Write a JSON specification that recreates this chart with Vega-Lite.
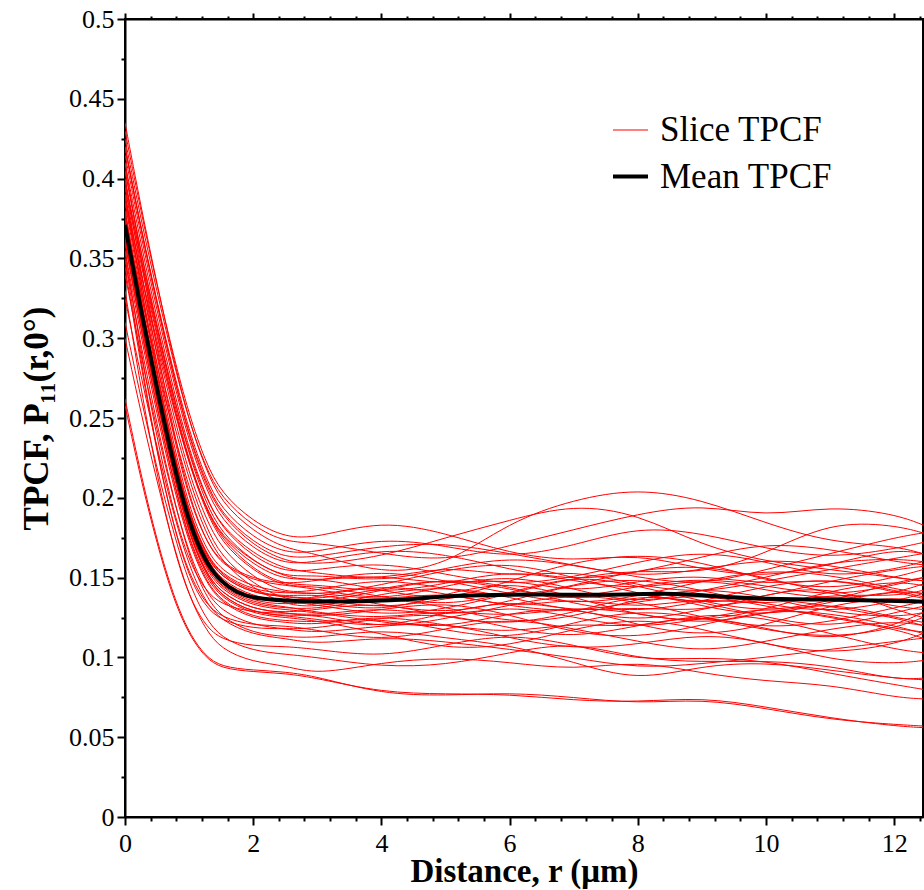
{
"$schema": "https://vega.github.io/schema/vega-lite/v6.json",
"width": 798, "height": 798,
"autosize": {"type": "none"},
"padding": {"left": 125, "top": 19, "right": 1, "bottom": 73},
"config": {"font": "Liberation Serif", "view": {"stroke": "#000", "strokeWidth": 2}, "axis": {"labelFont": "Liberation Serif", "titleFont": "Liberation Serif"}, "legend": {"labelFont": "Liberation Serif"}},
"datasets": {
"slices": [
{"c":1,"r":0,"v":0.262},{"c":1,"r":0.25,"v":0.214},{"c":1,"r":0.5,"v":0.173},{"c":1,"r":0.75,"v":0.139},{"c":1,"r":1,"v":0.115},{"c":1,"r":1.25,"v":0.101},{"c":1,"r":1.5,"v":0.094},{"c":1,"r":2,"v":0.092},{"c":1,"r":2.5,"v":0.091},{"c":1,"r":3,"v":0.088},{"c":1,"r":4,"v":0.077},{"c":1,"r":5,"v":0.076},{"c":1,"r":6,"v":0.078},{"c":1,"r":7,"v":0.075},{"c":1,"r":8,"v":0.071},{"c":1,"r":9,"v":0.074},{"c":1,"r":10,"v":0.068},{"c":1,"r":11,"v":0.061},{"c":1,"r":12,"v":0.058},{"c":1,"r":12.45,"v":0.057},
{"c":2,"r":0,"v":0.258},{"c":2,"r":0.25,"v":0.211},{"c":2,"r":0.5,"v":0.171},{"c":2,"r":0.75,"v":0.137},{"c":2,"r":1,"v":0.114},{"c":2,"r":1.25,"v":0.100},{"c":2,"r":1.5,"v":0.093},{"c":2,"r":2,"v":0.091},{"c":2,"r":2.5,"v":0.090},{"c":2,"r":3,"v":0.087},{"c":2,"r":4,"v":0.078},{"c":2,"r":5,"v":0.077},{"c":2,"r":6,"v":0.077},{"c":2,"r":7,"v":0.073},{"c":2,"r":8,"v":0.072},{"c":2,"r":9,"v":0.075},{"c":2,"r":10,"v":0.069},{"c":2,"r":11,"v":0.062},{"c":2,"r":12,"v":0.057},{"c":2,"r":12.45,"v":0.056},
{"c":3,"r":0,"v":0.300},{"c":3,"r":0.25,"v":0.253},{"c":3,"r":0.5,"v":0.210},{"c":3,"r":0.75,"v":0.171},{"c":3,"r":1,"v":0.138},{"c":3,"r":1.25,"v":0.118},{"c":3,"r":1.5,"v":0.105},{"c":3,"r":2,"v":0.097},{"c":3,"r":2.5,"v":0.095},{"c":3,"r":3,"v":0.089},{"c":3,"r":4,"v":0.097},{"c":3,"r":5,"v":0.100},{"c":3,"r":6,"v":0.097},{"c":3,"r":7,"v":0.092},{"c":3,"r":8,"v":0.098},{"c":3,"r":9,"v":0.090},{"c":3,"r":10,"v":0.085},{"c":3,"r":11,"v":0.083},{"c":3,"r":12,"v":0.075},{"c":3,"r":12.45,"v":0.074},
{"c":4,"r":0,"v":0.310},{"c":4,"r":0.25,"v":0.262},{"c":4,"r":0.5,"v":0.218},{"c":4,"r":0.75,"v":0.179},{"c":4,"r":1,"v":0.146},{"c":4,"r":1.25,"v":0.125},{"c":4,"r":1.5,"v":0.112},{"c":4,"r":2,"v":0.104},{"c":4,"r":2.5,"v":0.102},{"c":4,"r":3,"v":0.100},{"c":4,"r":4,"v":0.094},{"c":4,"r":5,"v":0.095},{"c":4,"r":6,"v":0.103},{"c":4,"r":7,"v":0.110},{"c":4,"r":8,"v":0.099},{"c":4,"r":9,"v":0.097},{"c":4,"r":10,"v":0.098},{"c":4,"r":11,"v":0.095},{"c":4,"r":12,"v":0.086},{"c":4,"r":12.45,"v":0.087},
{"c":5,"r":0,"v":0.325},{"c":5,"r":0.25,"v":0.276},{"c":5,"r":0.5,"v":0.231},{"c":5,"r":0.75,"v":0.191},{"c":5,"r":1,"v":0.157},{"c":5,"r":1.25,"v":0.135},{"c":5,"r":1.5,"v":0.123},{"c":5,"r":2,"v":0.114},{"c":5,"r":2.5,"v":0.112},{"c":5,"r":3,"v":0.108},{"c":5,"r":4,"v":0.113},{"c":5,"r":5,"v":0.110},{"c":5,"r":6,"v":0.105},{"c":5,"r":7,"v":0.100},{"c":5,"r":8,"v":0.093},{"c":5,"r":9,"v":0.096},{"c":5,"r":10,"v":0.100},{"c":5,"r":11,"v":0.105},{"c":5,"r":12,"v":0.110},{"c":5,"r":12.45,"v":0.112},
{"c":6,"r":0,"v":0.340},{"c":6,"r":0.25,"v":0.289},{"c":6,"r":0.5,"v":0.242},{"c":6,"r":0.75,"v":0.200},{"c":6,"r":1,"v":0.165},{"c":6,"r":1.25,"v":0.142},{"c":6,"r":1.5,"v":0.129},{"c":6,"r":2,"v":0.120},{"c":6,"r":2.5,"v":0.118},{"c":6,"r":3,"v":0.115},{"c":6,"r":4,"v":0.120},{"c":6,"r":5,"v":0.122},{"c":6,"r":6,"v":0.112},{"c":6,"r":7,"v":0.105},{"c":6,"r":8,"v":0.108},{"c":6,"r":9,"v":0.115},{"c":6,"r":10,"v":0.110},{"c":6,"r":11,"v":0.098},{"c":6,"r":12,"v":0.096},{"c":6,"r":12.45,"v":0.098},
{"c":7,"r":0,"v":0.345},{"c":7,"r":0.25,"v":0.282},{"c":7,"r":0.5,"v":0.228},{"c":7,"r":0.75,"v":0.183},{"c":7,"r":1,"v":0.152},{"c":7,"r":1.25,"v":0.134},{"c":7,"r":1.5,"v":0.125},{"c":7,"r":2,"v":0.120},{"c":7,"r":2.5,"v":0.120},{"c":7,"r":3,"v":0.117},{"c":7,"r":4,"v":0.110},{"c":7,"r":5,"v":0.118},{"c":7,"r":6,"v":0.125},{"c":7,"r":7,"v":0.118},{"c":7,"r":8,"v":0.110},{"c":7,"r":9,"v":0.103},{"c":7,"r":10,"v":0.110},{"c":7,"r":11,"v":0.118},{"c":7,"r":12,"v":0.123},{"c":7,"r":12.45,"v":0.120},
{"c":8,"r":0,"v":0.360},{"c":8,"r":0.25,"v":0.305},{"c":8,"r":0.5,"v":0.256},{"c":8,"r":0.75,"v":0.211},{"c":8,"r":1,"v":0.173},{"c":8,"r":1.25,"v":0.149},{"c":8,"r":1.5,"v":0.135},{"c":8,"r":2,"v":0.125},{"c":8,"r":2.5,"v":0.123},{"c":8,"r":3,"v":0.122},{"c":8,"r":4,"v":0.125},{"c":8,"r":5,"v":0.117},{"c":8,"r":6,"v":0.111},{"c":8,"r":7,"v":0.122},{"c":8,"r":8,"v":0.130},{"c":8,"r":9,"v":0.125},{"c":8,"r":10,"v":0.117},{"c":8,"r":11,"v":0.112},{"c":8,"r":12,"v":0.118},{"c":8,"r":12.45,"v":0.125},
{"c":9,"r":0,"v":0.365},{"c":9,"r":0.25,"v":0.310},{"c":9,"r":0.5,"v":0.261},{"c":9,"r":0.75,"v":0.216},{"c":9,"r":1,"v":0.178},{"c":9,"r":1.25,"v":0.154},{"c":9,"r":1.5,"v":0.140},{"c":9,"r":2,"v":0.130},{"c":9,"r":2.5,"v":0.128},{"c":9,"r":3,"v":0.125},{"c":9,"r":4,"v":0.130},{"c":9,"r":5,"v":0.135},{"c":9,"r":6,"v":0.127},{"c":9,"r":7,"v":0.115},{"c":9,"r":8,"v":0.112},{"c":9,"r":9,"v":0.120},{"c":9,"r":10,"v":0.130},{"c":9,"r":11,"v":0.128},{"c":9,"r":12,"v":0.120},{"c":9,"r":12.45,"v":0.115},
{"c":10,"r":0,"v":0.370},{"c":10,"r":0.25,"v":0.314},{"c":10,"r":0.5,"v":0.263},{"c":10,"r":0.75,"v":0.216},{"c":10,"r":1,"v":0.177},{"c":10,"r":1.25,"v":0.153},{"c":10,"r":1.5,"v":0.138},{"c":10,"r":2,"v":0.128},{"c":10,"r":2.5,"v":0.126},{"c":10,"r":3,"v":0.127},{"c":10,"r":4,"v":0.118},{"c":10,"r":5,"v":0.124},{"c":10,"r":6,"v":0.133},{"c":10,"r":7,"v":0.140},{"c":10,"r":8,"v":0.135},{"c":10,"r":9,"v":0.125},{"c":10,"r":10,"v":0.118},{"c":10,"r":11,"v":0.122},{"c":10,"r":12,"v":0.131},{"c":10,"r":12.45,"v":0.135},
{"c":11,"r":0,"v":0.375},{"c":11,"r":0.25,"v":0.319},{"c":11,"r":0.5,"v":0.268},{"c":11,"r":0.75,"v":0.221},{"c":11,"r":1,"v":0.182},{"c":11,"r":1.25,"v":0.158},{"c":11,"r":1.5,"v":0.143},{"c":11,"r":2,"v":0.133},{"c":11,"r":2.5,"v":0.131},{"c":11,"r":3,"v":0.130},{"c":11,"r":4,"v":0.138},{"c":11,"r":5,"v":0.132},{"c":11,"r":6,"v":0.121},{"c":11,"r":7,"v":0.125},{"c":11,"r":8,"v":0.137},{"c":11,"r":9,"v":0.144},{"c":11,"r":10,"v":0.138},{"c":11,"r":11,"v":0.128},{"c":11,"r":12,"v":0.125},{"c":11,"r":12.45,"v":0.128},
{"c":12,"r":0,"v":0.380},{"c":12,"r":0.25,"v":0.323},{"c":12,"r":0.5,"v":0.271},{"c":12,"r":0.75,"v":0.224},{"c":12,"r":1,"v":0.185},{"c":12,"r":1.25,"v":0.160},{"c":12,"r":1.5,"v":0.145},{"c":12,"r":2,"v":0.135},{"c":12,"r":2.5,"v":0.133},{"c":12,"r":3,"v":0.135},{"c":12,"r":4,"v":0.128},{"c":12,"r":5,"v":0.140},{"c":12,"r":6,"v":0.148},{"c":12,"r":7,"v":0.138},{"c":12,"r":8,"v":0.126},{"c":12,"r":9,"v":0.122},{"c":12,"r":10,"v":0.130},{"c":12,"r":11,"v":0.142},{"c":12,"r":12,"v":0.148},{"c":12,"r":12.45,"v":0.145},
{"c":13,"r":0,"v":0.385},{"c":13,"r":0.25,"v":0.335},{"c":13,"r":0.5,"v":0.290},{"c":13,"r":0.75,"v":0.248},{"c":13,"r":1,"v":0.211},{"c":13,"r":1.25,"v":0.183},{"c":13,"r":1.5,"v":0.163},{"c":13,"r":2,"v":0.146},{"c":13,"r":2.5,"v":0.136},{"c":13,"r":3,"v":0.134},{"c":13,"r":4,"v":0.142},{"c":13,"r":5,"v":0.150},{"c":13,"r":6,"v":0.145},{"c":13,"r":7,"v":0.133},{"c":13,"r":8,"v":0.128},{"c":13,"r":9,"v":0.135},{"c":13,"r":10,"v":0.145},{"c":13,"r":11,"v":0.150},{"c":13,"r":12,"v":0.141},{"c":13,"r":12.45,"v":0.137},
{"c":14,"r":0,"v":0.390},{"c":14,"r":0.25,"v":0.332},{"c":14,"r":0.5,"v":0.279},{"c":14,"r":0.75,"v":0.231},{"c":14,"r":1,"v":0.191},{"c":14,"r":1.25,"v":0.166},{"c":14,"r":1.5,"v":0.151},{"c":14,"r":2,"v":0.141},{"c":14,"r":2.5,"v":0.138},{"c":14,"r":3,"v":0.140},{"c":14,"r":4,"v":0.133},{"c":14,"r":5,"v":0.127},{"c":14,"r":6,"v":0.135},{"c":14,"r":7,"v":0.146},{"c":14,"r":8,"v":0.150},{"c":14,"r":9,"v":0.142},{"c":14,"r":10,"v":0.133},{"c":14,"r":11,"v":0.128},{"c":14,"r":12,"v":0.135},{"c":14,"r":12.45,"v":0.140},
{"c":15,"r":0,"v":0.390},{"c":15,"r":0.25,"v":0.340},{"c":15,"r":0.5,"v":0.295},{"c":15,"r":0.75,"v":0.253},{"c":15,"r":1,"v":0.215},{"c":15,"r":1.25,"v":0.188},{"c":15,"r":1.5,"v":0.168},{"c":15,"r":2,"v":0.150},{"c":15,"r":2.5,"v":0.140},{"c":15,"r":3,"v":0.142},{"c":15,"r":4,"v":0.150},{"c":15,"r":5,"v":0.143},{"c":15,"r":6,"v":0.137},{"c":15,"r":7,"v":0.145},{"c":15,"r":8,"v":0.155},{"c":15,"r":9,"v":0.158},{"c":15,"r":10,"v":0.150},{"c":15,"r":11,"v":0.140},{"c":15,"r":12,"v":0.132},{"c":15,"r":12.45,"v":0.130},
{"c":16,"r":0,"v":0.395},{"c":16,"r":0.25,"v":0.337},{"c":16,"r":0.5,"v":0.283},{"c":16,"r":0.75,"v":0.235},{"c":16,"r":1,"v":0.194},{"c":16,"r":1.25,"v":0.169},{"c":16,"r":1.5,"v":0.154},{"c":16,"r":2,"v":0.144},{"c":16,"r":2.5,"v":0.141},{"c":16,"r":3,"v":0.139},{"c":16,"r":4,"v":0.145},{"c":16,"r":5,"v":0.155},{"c":16,"r":6,"v":0.160},{"c":16,"r":7,"v":0.150},{"c":16,"r":8,"v":0.140},{"c":16,"r":9,"v":0.133},{"c":16,"r":10,"v":0.138},{"c":16,"r":11,"v":0.148},{"c":16,"r":12,"v":0.155},{"c":16,"r":12.45,"v":0.157},
{"c":17,"r":0,"v":0.400},{"c":17,"r":0.25,"v":0.349},{"c":17,"r":0.5,"v":0.303},{"c":17,"r":0.75,"v":0.259},{"c":17,"r":1,"v":0.221},{"c":17,"r":1.25,"v":0.193},{"c":17,"r":1.5,"v":0.172},{"c":17,"r":2,"v":0.154},{"c":17,"r":2.5,"v":0.144},{"c":17,"r":3,"v":0.145},{"c":17,"r":4,"v":0.138},{"c":17,"r":5,"v":0.132},{"c":17,"r":6,"v":0.140},{"c":17,"r":7,"v":0.152},{"c":17,"r":8,"v":0.145},{"c":17,"r":9,"v":0.135},{"c":17,"r":10,"v":0.128},{"c":17,"r":11,"v":0.135},{"c":17,"r":12,"v":0.147},{"c":17,"r":12.45,"v":0.150},
{"c":18,"r":0,"v":0.400},{"c":18,"r":0.25,"v":0.342},{"c":18,"r":0.5,"v":0.288},{"c":18,"r":0.75,"v":0.240},{"c":18,"r":1,"v":0.199},{"c":18,"r":1.25,"v":0.174},{"c":18,"r":1.5,"v":0.159},{"c":18,"r":2,"v":0.149},{"c":18,"r":2.5,"v":0.146},{"c":18,"r":3,"v":0.148},{"c":18,"r":4,"v":0.155},{"c":18,"r":5,"v":0.148},{"c":18,"r":6,"v":0.140},{"c":18,"r":7,"v":0.133},{"c":18,"r":8,"v":0.138},{"c":18,"r":9,"v":0.148},{"c":18,"r":10,"v":0.155},{"c":18,"r":11,"v":0.152},{"c":18,"r":12,"v":0.143},{"c":18,"r":12.45,"v":0.140},
{"c":19,"r":0,"v":0.405},{"c":19,"r":0.25,"v":0.354},{"c":19,"r":0.5,"v":0.308},{"c":19,"r":0.75,"v":0.265},{"c":19,"r":1,"v":0.227},{"c":19,"r":1.25,"v":0.198},{"c":19,"r":1.5,"v":0.178},{"c":19,"r":2,"v":0.160},{"c":19,"r":2.5,"v":0.150},{"c":19,"r":3,"v":0.152},{"c":19,"r":4,"v":0.147},{"c":19,"r":5,"v":0.156},{"c":19,"r":6,"v":0.163},{"c":19,"r":7,"v":0.158},{"c":19,"r":8,"v":0.150},{"c":19,"r":9,"v":0.155},{"c":19,"r":10,"v":0.162},{"c":19,"r":11,"v":0.158},{"c":19,"r":12,"v":0.150},{"c":19,"r":12.45,"v":0.148},
{"c":20,"r":0,"v":0.410},{"c":20,"r":0.25,"v":0.359},{"c":20,"r":0.5,"v":0.312},{"c":20,"r":0.75,"v":0.269},{"c":20,"r":1,"v":0.230},{"c":20,"r":1.25,"v":0.202},{"c":20,"r":1.5,"v":0.181},{"c":20,"r":2,"v":0.163},{"c":20,"r":2.5,"v":0.153},{"c":20,"r":3,"v":0.155},{"c":20,"r":4,"v":0.160},{"c":20,"r":5,"v":0.152},{"c":20,"r":6,"v":0.145},{"c":20,"r":7,"v":0.150},{"c":20,"r":8,"v":0.160},{"c":20,"r":9,"v":0.167},{"c":20,"r":10,"v":0.160},{"c":20,"r":11,"v":0.150},{"c":20,"r":12,"v":0.155},{"c":20,"r":12.45,"v":0.160},
{"c":21,"r":0,"v":0.415},{"c":21,"r":0.25,"v":0.364},{"c":21,"r":0.5,"v":0.317},{"c":21,"r":0.75,"v":0.274},{"c":21,"r":1,"v":0.235},{"c":21,"r":1.25,"v":0.207},{"c":21,"r":1.5,"v":0.186},{"c":21,"r":2,"v":0.168},{"c":21,"r":2.5,"v":0.158},{"c":21,"r":3,"v":0.160},{"c":21,"r":4,"v":0.168},{"c":21,"r":5,"v":0.165},{"c":21,"r":6,"v":0.155},{"c":21,"r":7,"v":0.148},{"c":21,"r":8,"v":0.153},{"c":21,"r":9,"v":0.163},{"c":21,"r":10,"v":0.172},{"c":21,"r":11,"v":0.168},{"c":21,"r":12,"v":0.160},{"c":21,"r":12.45,"v":0.158},
{"c":22,"r":0,"v":0.420},{"c":22,"r":0.25,"v":0.369},{"c":22,"r":0.5,"v":0.323},{"c":22,"r":0.75,"v":0.280},{"c":22,"r":1,"v":0.242},{"c":22,"r":1.25,"v":0.213},{"c":22,"r":1.5,"v":0.193},{"c":22,"r":2,"v":0.175},{"c":22,"r":2.5,"v":0.165},{"c":22,"r":3,"v":0.166},{"c":22,"r":4,"v":0.175},{"c":22,"r":5,"v":0.170},{"c":22,"r":6,"v":0.162},{"c":22,"r":7,"v":0.170},{"c":22,"r":8,"v":0.182},{"c":22,"r":9,"v":0.178},{"c":22,"r":10,"v":0.168},{"c":22,"r":11,"v":0.162},{"c":22,"r":12,"v":0.168},{"c":22,"r":12.45,"v":0.172},
{"c":23,"r":0,"v":0.425},{"c":23,"r":0.25,"v":0.374},{"c":23,"r":0.5,"v":0.329},{"c":23,"r":0.75,"v":0.286},{"c":23,"r":1,"v":0.248},{"c":23,"r":1.25,"v":0.220},{"c":23,"r":1.5,"v":0.200},{"c":23,"r":2,"v":0.182},{"c":23,"r":2.5,"v":0.172},{"c":23,"r":3,"v":0.172},{"c":23,"r":4,"v":0.165},{"c":23,"r":5,"v":0.160},{"c":23,"r":6,"v":0.170},{"c":23,"r":7,"v":0.180},{"c":23,"r":8,"v":0.190},{"c":23,"r":9,"v":0.196},{"c":23,"r":10,"v":0.188},{"c":23,"r":11,"v":0.195},{"c":23,"r":12,"v":0.190},{"c":23,"r":12.45,"v":0.183},
{"c":24,"r":0,"v":0.430},{"c":24,"r":0.25,"v":0.379},{"c":24,"r":0.5,"v":0.333},{"c":24,"r":0.75,"v":0.290},{"c":24,"r":1,"v":0.252},{"c":24,"r":1.25,"v":0.223},{"c":24,"r":1.5,"v":0.203},{"c":24,"r":2,"v":0.185},{"c":24,"r":2.5,"v":0.175},{"c":24,"r":3,"v":0.175},{"c":24,"r":4,"v":0.186},{"c":24,"r":5,"v":0.178},{"c":24,"r":6,"v":0.165},{"c":24,"r":7,"v":0.160},{"c":24,"r":8,"v":0.165},{"c":24,"r":9,"v":0.155},{"c":24,"r":10,"v":0.150},{"c":24,"r":11,"v":0.158},{"c":24,"r":12,"v":0.168},{"c":24,"r":12.45,"v":0.165},
{"c":25,"r":0,"v":0.435},{"c":25,"r":0.25,"v":0.382},{"c":25,"r":0.5,"v":0.334},{"c":25,"r":0.75,"v":0.288},{"c":25,"r":1,"v":0.248},{"c":25,"r":1.25,"v":0.219},{"c":25,"r":1.5,"v":0.197},{"c":25,"r":2,"v":0.179},{"c":25,"r":2.5,"v":0.168},{"c":25,"r":3,"v":0.165},{"c":25,"r":4,"v":0.152},{"c":25,"r":5,"v":0.157},{"c":25,"r":6,"v":0.185},{"c":25,"r":7,"v":0.199},{"c":25,"r":8,"v":0.206},{"c":25,"r":9,"v":0.199},{"c":25,"r":10,"v":0.184},{"c":25,"r":11,"v":0.172},{"c":25,"r":12,"v":0.170},{"c":25,"r":12.45,"v":0.165},
{"c":26,"r":0,"v":0.420},{"c":26,"r":0.25,"v":0.368},{"c":26,"r":0.5,"v":0.321},{"c":26,"r":0.75,"v":0.277},{"c":26,"r":1,"v":0.238},{"c":26,"r":1.25,"v":0.209},{"c":26,"r":1.5,"v":0.189},{"c":26,"r":2,"v":0.170},{"c":26,"r":2.5,"v":0.160},{"c":26,"r":3,"v":0.158},{"c":26,"r":4,"v":0.163},{"c":26,"r":5,"v":0.175},{"c":26,"r":6,"v":0.186},{"c":26,"r":7,"v":0.196},{"c":26,"r":8,"v":0.190},{"c":26,"r":9,"v":0.170},{"c":26,"r":10,"v":0.160},{"c":26,"r":11,"v":0.155},{"c":26,"r":12,"v":0.150},{"c":26,"r":12.45,"v":0.148},
{"c":27,"r":0,"v":0.390},{"c":27,"r":0.25,"v":0.331},{"c":27,"r":0.5,"v":0.278},{"c":27,"r":0.75,"v":0.229},{"c":27,"r":1,"v":0.189},{"c":27,"r":1.25,"v":0.163},{"c":27,"r":1.5,"v":0.148},{"c":27,"r":2,"v":0.138},{"c":27,"r":2.5,"v":0.135},{"c":27,"r":3,"v":0.133},{"c":27,"r":4,"v":0.126},{"c":27,"r":5,"v":0.130},{"c":27,"r":6,"v":0.140},{"c":27,"r":7,"v":0.150},{"c":27,"r":8,"v":0.155},{"c":27,"r":9,"v":0.152},{"c":27,"r":10,"v":0.165},{"c":27,"r":11,"v":0.185},{"c":27,"r":12,"v":0.183},{"c":27,"r":12.45,"v":0.178},
{"c":28,"r":0,"v":0.360},{"c":28,"r":0.25,"v":0.306},{"c":28,"r":0.5,"v":0.257},{"c":28,"r":0.75,"v":0.212},{"c":28,"r":1,"v":0.174},{"c":28,"r":1.25,"v":0.151},{"c":28,"r":1.5,"v":0.137},{"c":28,"r":2,"v":0.127},{"c":28,"r":2.5,"v":0.125},{"c":28,"r":3,"v":0.123},{"c":28,"r":4,"v":0.115},{"c":28,"r":5,"v":0.105},{"c":28,"r":6,"v":0.107},{"c":28,"r":7,"v":0.118},{"c":28,"r":8,"v":0.125},{"c":28,"r":9,"v":0.118},{"c":28,"r":10,"v":0.108},{"c":28,"r":11,"v":0.102},{"c":28,"r":12,"v":0.108},{"c":28,"r":12.45,"v":0.115},
{"c":29,"r":0,"v":0.330},{"c":29,"r":0.25,"v":0.268},{"c":29,"r":0.5,"v":0.214},{"c":29,"r":0.75,"v":0.169},{"c":29,"r":1,"v":0.138},{"c":29,"r":1.25,"v":0.120},{"c":29,"r":1.5,"v":0.111},{"c":29,"r":2,"v":0.107},{"c":29,"r":2.5,"v":0.107},{"c":29,"r":3,"v":0.105},{"c":29,"r":4,"v":0.100},{"c":29,"r":5,"v":0.108},{"c":29,"r":6,"v":0.115},{"c":29,"r":7,"v":0.108},{"c":29,"r":8,"v":0.098},{"c":29,"r":9,"v":0.100},{"c":29,"r":10,"v":0.098},{"c":29,"r":11,"v":0.090},{"c":29,"r":12,"v":0.083},{"c":29,"r":12.45,"v":0.080},
{"c":30,"r":0,"v":0.350},{"c":30,"r":0.25,"v":0.295},{"c":30,"r":0.5,"v":0.246},{"c":30,"r":0.75,"v":0.201},{"c":30,"r":1,"v":0.163},{"c":30,"r":1.25,"v":0.139},{"c":30,"r":1.5,"v":0.125},{"c":30,"r":2,"v":0.115},{"c":30,"r":2.5,"v":0.113},{"c":30,"r":3,"v":0.112},{"c":30,"r":4,"v":0.118},{"c":30,"r":5,"v":0.112},{"c":30,"r":6,"v":0.108},{"c":30,"r":7,"v":0.097},{"c":30,"r":8,"v":0.085},{"c":30,"r":9,"v":0.095},{"c":30,"r":10,"v":0.097},{"c":30,"r":11,"v":0.092},{"c":30,"r":12,"v":0.087},{"c":30,"r":12.45,"v":0.086},
{"c":31,"r":0,"v":0.370},{"c":31,"r":0.25,"v":0.315},{"c":31,"r":0.5,"v":0.264},{"c":31,"r":0.75,"v":0.219},{"c":31,"r":1,"v":0.180},{"c":31,"r":1.25,"v":0.156},{"c":31,"r":1.5,"v":0.142},{"c":31,"r":2,"v":0.132},{"c":31,"r":2.5,"v":0.130},{"c":31,"r":3,"v":0.128},{"c":31,"r":4,"v":0.122},{"c":31,"r":5,"v":0.118},{"c":31,"r":6,"v":0.128},{"c":31,"r":7,"v":0.132},{"c":31,"r":8,"v":0.120},{"c":31,"r":9,"v":0.113},{"c":31,"r":10,"v":0.120},{"c":31,"r":11,"v":0.133},{"c":31,"r":12,"v":0.138},{"c":31,"r":12.45,"v":0.135},
{"c":32,"r":0,"v":0.380},{"c":32,"r":0.25,"v":0.324},{"c":32,"r":0.5,"v":0.272},{"c":32,"r":0.75,"v":0.226},{"c":32,"r":1,"v":0.186},{"c":32,"r":1.25,"v":0.162},{"c":32,"r":1.5,"v":0.147},{"c":32,"r":2,"v":0.137},{"c":32,"r":2.5,"v":0.135},{"c":32,"r":3,"v":0.138},{"c":32,"r":4,"v":0.146},{"c":32,"r":5,"v":0.140},{"c":32,"r":6,"v":0.132},{"c":32,"r":7,"v":0.128},{"c":32,"r":8,"v":0.135},{"c":32,"r":9,"v":0.140},{"c":32,"r":10,"v":0.132},{"c":32,"r":11,"v":0.125},{"c":32,"r":12,"v":0.118},{"c":32,"r":12.45,"v":0.112},
{"c":33,"r":0,"v":0.385},{"c":33,"r":0.25,"v":0.328},{"c":33,"r":0.5,"v":0.276},{"c":33,"r":0.75,"v":0.229},{"c":33,"r":1,"v":0.190},{"c":33,"r":1.25,"v":0.165},{"c":33,"r":1.5,"v":0.150},{"c":33,"r":2,"v":0.140},{"c":33,"r":2.5,"v":0.138},{"c":33,"r":3,"v":0.137},{"c":33,"r":4,"v":0.130},{"c":33,"r":5,"v":0.137},{"c":33,"r":6,"v":0.142},{"c":33,"r":7,"v":0.136},{"c":33,"r":8,"v":0.145},{"c":33,"r":9,"v":0.150},{"c":33,"r":10,"v":0.145},{"c":33,"r":11,"v":0.138},{"c":33,"r":12,"v":0.145},{"c":33,"r":12.45,"v":0.150},
{"c":34,"r":0,"v":0.355},{"c":34,"r":0.25,"v":0.301},{"c":34,"r":0.5,"v":0.252},{"c":34,"r":0.75,"v":0.208},{"c":34,"r":1,"v":0.171},{"c":34,"r":1.25,"v":0.148},{"c":34,"r":1.5,"v":0.134},{"c":34,"r":2,"v":0.124},{"c":34,"r":2.5,"v":0.122},{"c":34,"r":3,"v":0.120},{"c":34,"r":4,"v":0.127},{"c":34,"r":5,"v":0.120},{"c":34,"r":6,"v":0.115},{"c":34,"r":7,"v":0.122},{"c":34,"r":8,"v":0.118},{"c":34,"r":9,"v":0.128},{"c":34,"r":10,"v":0.125},{"c":34,"r":11,"v":0.115},{"c":34,"r":12,"v":0.105},{"c":34,"r":12.45,"v":0.103},
{"c":35,"r":0,"v":0.395},{"c":35,"r":0.25,"v":0.346},{"c":35,"r":0.5,"v":0.301},{"c":35,"r":0.75,"v":0.259},{"c":35,"r":1,"v":0.222},{"c":35,"r":1.25,"v":0.195},{"c":35,"r":1.5,"v":0.175},{"c":35,"r":2,"v":0.158},{"c":35,"r":2.5,"v":0.148},{"c":35,"r":3,"v":0.150},{"c":35,"r":4,"v":0.142},{"c":35,"r":5,"v":0.135},{"c":35,"r":6,"v":0.148},{"c":35,"r":7,"v":0.160},{"c":35,"r":8,"v":0.165},{"c":35,"r":9,"v":0.160},{"c":35,"r":10,"v":0.148},{"c":35,"r":11,"v":0.142},{"c":35,"r":12,"v":0.150},{"c":35,"r":12.45,"v":0.155},
{"c":36,"r":0,"v":0.375},{"c":36,"r":0.25,"v":0.327},{"c":36,"r":0.5,"v":0.283},{"c":36,"r":0.75,"v":0.242},{"c":36,"r":1,"v":0.206},{"c":36,"r":1.25,"v":0.179},{"c":36,"r":1.5,"v":0.160},{"c":36,"r":2,"v":0.143},{"c":36,"r":2.5,"v":0.133},{"c":36,"r":3,"v":0.131},{"c":36,"r":4,"v":0.140},{"c":36,"r":5,"v":0.145},{"c":36,"r":6,"v":0.138},{"c":36,"r":7,"v":0.128},{"c":36,"r":8,"v":0.132},{"c":36,"r":9,"v":0.128},{"c":36,"r":10,"v":0.140},{"c":36,"r":11,"v":0.145},{"c":36,"r":12,"v":0.130},{"c":36,"r":12.45,"v":0.125},
{"c":37,"r":0,"v":0.410},{"c":37,"r":0.25,"v":0.349},{"c":37,"r":0.5,"v":0.293},{"c":37,"r":0.75,"v":0.243},{"c":37,"r":1,"v":0.201},{"c":37,"r":1.25,"v":0.174},{"c":37,"r":1.5,"v":0.158},{"c":37,"r":2,"v":0.148},{"c":37,"r":2.5,"v":0.145},{"c":37,"r":3,"v":0.143},{"c":37,"r":4,"v":0.135},{"c":37,"r":5,"v":0.145},{"c":37,"r":6,"v":0.152},{"c":37,"r":7,"v":0.143},{"c":37,"r":8,"v":0.133},{"c":37,"r":9,"v":0.142},{"c":37,"r":10,"v":0.150},{"c":37,"r":11,"v":0.160},{"c":37,"r":12,"v":0.162},{"c":37,"r":12.45,"v":0.160},
{"c":38,"r":0,"v":0.350},{"c":38,"r":0.25,"v":0.285},{"c":38,"r":0.5,"v":0.229},{"c":38,"r":0.75,"v":0.183},{"c":38,"r":1,"v":0.150},{"c":38,"r":1.25,"v":0.132},{"c":38,"r":1.5,"v":0.123},{"c":38,"r":2,"v":0.118},{"c":38,"r":2.5,"v":0.118},{"c":38,"r":3,"v":0.118},{"c":38,"r":4,"v":0.125},{"c":38,"r":5,"v":0.128},{"c":38,"r":6,"v":0.118},{"c":38,"r":7,"v":0.112},{"c":38,"r":8,"v":0.120},{"c":38,"r":9,"v":0.127},{"c":38,"r":10,"v":0.118},{"c":38,"r":11,"v":0.110},{"c":38,"r":12,"v":0.120},{"c":38,"r":12.45,"v":0.128},
{"c":39,"r":0,"v":0.420},{"c":39,"r":0.25,"v":0.368},{"c":39,"r":0.5,"v":0.322},{"c":39,"r":0.75,"v":0.278},{"c":39,"r":1,"v":0.239},{"c":39,"r":1.25,"v":0.211},{"c":39,"r":1.5,"v":0.190},{"c":39,"r":2,"v":0.172},{"c":39,"r":2.5,"v":0.162},{"c":39,"r":3,"v":0.163},{"c":39,"r":4,"v":0.170},{"c":39,"r":5,"v":0.172},{"c":39,"r":6,"v":0.165},{"c":39,"r":7,"v":0.158},{"c":39,"r":8,"v":0.150},{"c":39,"r":9,"v":0.145},{"c":39,"r":10,"v":0.155},{"c":39,"r":11,"v":0.165},{"c":39,"r":12,"v":0.175},{"c":39,"r":12.45,"v":0.178},
{"c":40,"r":0,"v":0.365},{"c":40,"r":0.25,"v":0.310},{"c":40,"r":0.5,"v":0.261},{"c":40,"r":0.75,"v":0.216},{"c":40,"r":1,"v":0.178},{"c":40,"r":1.25,"v":0.154},{"c":40,"r":1.5,"v":0.140},{"c":40,"r":2,"v":0.130},{"c":40,"r":2.5,"v":0.128},{"c":40,"r":3,"v":0.130},{"c":40,"r":4,"v":0.135},{"c":40,"r":5,"v":0.125},{"c":40,"r":6,"v":0.120},{"c":40,"r":7,"v":0.128},{"c":40,"r":8,"v":0.140},{"c":40,"r":9,"v":0.135},{"c":40,"r":10,"v":0.125},{"c":40,"r":11,"v":0.118},{"c":40,"r":12,"v":0.128},{"c":40,"r":12.45,"v":0.132},
{"c":41,"r":0,"v":0.372},{"c":41,"r":0.25,"v":0.318},{"c":41,"r":0.5,"v":0.269},{"c":41,"r":0.75,"v":0.225},{"c":41,"r":1,"v":0.187},{"c":41,"r":1.25,"v":0.164},{"c":41,"r":1.5,"v":0.150},{"c":41,"r":2,"v":0.140},{"c":41,"r":2.5,"v":0.138},{"c":41,"r":3,"v":0.136},{"c":41,"r":4,"v":0.143},{"c":41,"r":5,"v":0.150},{"c":41,"r":6,"v":0.143},{"c":41,"r":7,"v":0.135},{"c":41,"r":8,"v":0.142},{"c":41,"r":9,"v":0.132},{"c":41,"r":10,"v":0.125},{"c":41,"r":11,"v":0.135},{"c":41,"r":12,"v":0.142},{"c":41,"r":12.45,"v":0.140},
{"c":42,"r":0,"v":0.368},{"c":42,"r":0.25,"v":0.312},{"c":42,"r":0.5,"v":0.262},{"c":42,"r":0.75,"v":0.216},{"c":42,"r":1,"v":0.177},{"c":42,"r":1.25,"v":0.153},{"c":42,"r":1.5,"v":0.138},{"c":42,"r":2,"v":0.128},{"c":42,"r":2.5,"v":0.126},{"c":42,"r":3,"v":0.124},{"c":42,"r":4,"v":0.118},{"c":42,"r":5,"v":0.128},{"c":42,"r":6,"v":0.136},{"c":42,"r":7,"v":0.130},{"c":42,"r":8,"v":0.122},{"c":42,"r":9,"v":0.130},{"c":42,"r":10,"v":0.138},{"c":42,"r":11,"v":0.132},{"c":42,"r":12,"v":0.125},{"c":42,"r":12.45,"v":0.120},
{"c":43,"r":0,"v":0.388},{"c":43,"r":0.25,"v":0.340},{"c":43,"r":0.5,"v":0.298},{"c":43,"r":0.75,"v":0.257},{"c":43,"r":1,"v":0.221},{"c":43,"r":1.25,"v":0.195},{"c":43,"r":1.5,"v":0.176},{"c":43,"r":2,"v":0.160},{"c":43,"r":2.5,"v":0.150},{"c":43,"r":3,"v":0.148},{"c":43,"r":4,"v":0.152},{"c":43,"r":5,"v":0.145},{"c":43,"r":6,"v":0.150},{"c":43,"r":7,"v":0.140},{"c":43,"r":8,"v":0.148},{"c":43,"r":9,"v":0.152},{"c":43,"r":10,"v":0.145},{"c":43,"r":11,"v":0.150},{"c":43,"r":12,"v":0.142},{"c":43,"r":12.45,"v":0.138},
{"c":44,"r":0,"v":0.378},{"c":44,"r":0.25,"v":0.323},{"c":44,"r":0.5,"v":0.273},{"c":44,"r":0.75,"v":0.228},{"c":44,"r":1,"v":0.190},{"c":44,"r":1.25,"v":0.166},{"c":44,"r":1.5,"v":0.152},{"c":44,"r":2,"v":0.142},{"c":44,"r":2.5,"v":0.140},{"c":44,"r":3,"v":0.141},{"c":44,"r":4,"v":0.135},{"c":44,"r":5,"v":0.142},{"c":44,"r":6,"v":0.130},{"c":44,"r":7,"v":0.138},{"c":44,"r":8,"v":0.130},{"c":44,"r":9,"v":0.138},{"c":44,"r":10,"v":0.132},{"c":44,"r":11,"v":0.140},{"c":44,"r":12,"v":0.138},{"c":44,"r":12.45,"v":0.142},
{"c":45,"r":0,"v":0.362},{"c":45,"r":0.25,"v":0.309},{"c":45,"r":0.5,"v":0.261},{"c":45,"r":0.75,"v":0.217},{"c":45,"r":1,"v":0.180},{"c":45,"r":1.25,"v":0.157},{"c":45,"r":1.5,"v":0.144},{"c":45,"r":2,"v":0.134},{"c":45,"r":2.5,"v":0.132},{"c":45,"r":3,"v":0.128},{"c":45,"r":4,"v":0.124},{"c":45,"r":5,"v":0.130},{"c":45,"r":6,"v":0.125},{"c":45,"r":7,"v":0.132},{"c":45,"r":8,"v":0.128},{"c":45,"r":9,"v":0.120},{"c":45,"r":10,"v":0.128},{"c":45,"r":11,"v":0.135},{"c":45,"r":12,"v":0.125},{"c":45,"r":12.45,"v":0.122},
{"c":46,"r":0,"v":0.398},{"c":46,"r":0.25,"v":0.349},{"c":46,"r":0.5,"v":0.306},{"c":46,"r":0.75,"v":0.264},{"c":46,"r":1,"v":0.228},{"c":46,"r":1.25,"v":0.201},{"c":46,"r":1.5,"v":0.182},{"c":46,"r":2,"v":0.165},{"c":46,"r":2.5,"v":0.155},{"c":46,"r":3,"v":0.153},{"c":46,"r":4,"v":0.148},{"c":46,"r":5,"v":0.158},{"c":46,"r":6,"v":0.150},{"c":46,"r":7,"v":0.155},{"c":46,"r":8,"v":0.145},{"c":46,"r":9,"v":0.140},{"c":46,"r":10,"v":0.148},{"c":46,"r":11,"v":0.155},{"c":46,"r":12,"v":0.162},{"c":46,"r":12.45,"v":0.165},
{"c":47,"r":0,"v":0.355},{"c":47,"r":0.25,"v":0.291},{"c":47,"r":0.5,"v":0.237},{"c":47,"r":0.75,"v":0.192},{"c":47,"r":1,"v":0.160},{"c":47,"r":1.25,"v":0.142},{"c":47,"r":1.5,"v":0.133},{"c":47,"r":2,"v":0.128},{"c":47,"r":2.5,"v":0.128},{"c":47,"r":3,"v":0.126},{"c":47,"r":4,"v":0.132},{"c":47,"r":5,"v":0.125},{"c":47,"r":6,"v":0.133},{"c":47,"r":7,"v":0.125},{"c":47,"r":8,"v":0.118},{"c":47,"r":9,"v":0.124},{"c":47,"r":10,"v":0.132},{"c":47,"r":11,"v":0.126},{"c":47,"r":12,"v":0.118},{"c":47,"r":12.45,"v":0.116},
{"c":48,"r":0,"v":0.405},{"c":48,"r":0.25,"v":0.353},{"c":48,"r":0.5,"v":0.306},{"c":48,"r":0.75,"v":0.262},{"c":48,"r":1,"v":0.223},{"c":48,"r":1.25,"v":0.194},{"c":48,"r":1.5,"v":0.174},{"c":48,"r":2,"v":0.155},{"c":48,"r":2.5,"v":0.145},{"c":48,"r":3,"v":0.146},{"c":48,"r":4,"v":0.140},{"c":48,"r":5,"v":0.146},{"c":48,"r":6,"v":0.155},{"c":48,"r":7,"v":0.148},{"c":48,"r":8,"v":0.142},{"c":48,"r":9,"v":0.150},{"c":48,"r":10,"v":0.142},{"c":48,"r":11,"v":0.136},{"c":48,"r":12,"v":0.140},{"c":48,"r":12.45,"v":0.146}
],
"mean": [
{"r":0,"v":0.371},{"r":0.25,"v":0.317},{"r":0.5,"v":0.268},{"r":0.75,"v":0.222},{"r":1,"v":0.184},{"r":1.25,"v":0.160},{"r":1.5,"v":0.147},{"r":1.75,"v":0.1405},{"r":2,"v":0.137},{"r":2.5,"v":0.1355},{"r":3,"v":0.135},{"r":4,"v":0.135},{"r":5,"v":0.1385},{"r":5.5,"v":0.139},{"r":6.5,"v":0.1395},{"r":7.5,"v":0.139},{"r":8.5,"v":0.1404},{"r":9,"v":0.139},{"r":9.6,"v":0.137},{"r":10.9,"v":0.1362},{"r":12,"v":0.1355},{"r":12.45,"v":0.1349}
]
},
"encoding": {
"y": {"field": "v", "type": "quantitative",
  "scale": {"domain": [0, 0.5], "nice": false, "zero": false},
  "axis": {"orient": "left", "values": [0,0.025,0.05,0.075,0.1,0.125,0.15,0.175,0.2,0.225,0.25,0.275,0.3,0.325,0.35,0.375,0.4,0.425,0.45,0.475,0.5],
    "labelExpr": "round(datum.value*1000) % 50 === 0 ? format(datum.value, '~g') : ''",
    "labelOverlap": false, "labelFlush": false, "labelFontSize": 26, "labelColor": "#000", "labelFont": "Liberation Serif", "labelPadding": 3,
    "tickSize": {"condition": {"test": "round(datum.value*1000) % 50 === 0", "value": 8}, "value": 4},
    "tickWidth": 2, "tickColor": "#000", "domainColor": "#000", "domainWidth": 2, "grid": false,
    "title": "TPCF, P₁₁(r,0°)", "titleFont": "Liberation Serif", "titleFontSize": 35, "titleFontWeight": "bold", "titleColor": "#000", "titlePadding": 14}}
},
"layer": [
{"data": {"name": "slices"},
 "mark": {"type": "line", "interpolate": "basis", "clip": true},
 "encoding": {
  "x": {"field": "r", "type": "quantitative",
    "scale": {"domain": [0, 12.45], "nice": false, "zero": false},
    "axis": {"orient": "bottom", "values": [0,0.4,0.8,1.2,1.6,2,2.4,2.8,3.2,3.6,4,4.4,4.8,5.2,5.6,6,6.4,6.8,7.2,7.6,8,8.4,8.8,9.2,9.6,10,10.4,10.8,11.2,11.6,12,12.4],
      "labelExpr": "round(datum.value*10) % 20 === 0 ? format(datum.value, 'd') : ''",
      "labelOverlap": false, "labelFlush": false, "labelFontSize": 26, "labelColor": "#000", "labelFont": "Liberation Serif", "labelPadding": 5,
      "tickSize": {"condition": {"test": "round(datum.value*10) % 20 === 0", "value": 8}, "value": 4},
      "tickWidth": 2, "tickColor": "#000", "domainColor": "#000", "domainWidth": 2, "grid": false,
      "title": "Distance, r (μm)", "titleFont": "Liberation Serif", "titleFontSize": 33, "titleFontWeight": "bold", "titleColor": "#000", "titlePadding": -1}},
  "detail": {"field": "c", "type": "nominal"},
  "color": {"datum": "Slice TPCF", "type": "nominal",
    "scale": {"domain": ["Slice TPCF", "Mean TPCF"], "range": ["#ff0000", "#000000"]},
    "legend": {"orient": "none", "legendX": 486, "legendY": 93, "title": null, "symbolType": "stroke", "symbolSize": 1225, "labelFontSize": 35, "labelFont": "Liberation Serif", "labelColor": "#000", "labelLimit": 500, "rowPadding": 9, "labelOffset": 10, "padding": 0}},
  "strokeWidth": {"datum": "Slice TPCF", "type": "nominal",
    "scale": {"domain": ["Slice TPCF", "Mean TPCF"], "range": [1, 4]},
    "legend": {"orient": "none", "legendX": 486, "legendY": 93, "title": null, "symbolType": "stroke", "symbolSize": 1225, "labelFontSize": 35, "labelFont": "Liberation Serif", "labelColor": "#000", "labelLimit": 500, "rowPadding": 9, "labelOffset": 10, "padding": 0}}
 }},
{"data": {"name": "mean"},
 "mark": {"type": "line", "interpolate": "basis", "clip": true},
 "encoding": {
  "x": {"field": "r", "type": "quantitative",
    "axis": {"orient": "top", "values": [0,0.4,0.8,1.2,1.6,2,2.4,2.8,3.2,3.6,4,4.4,4.8,5.2,5.6,6,6.4,6.8,7.2,7.6,8,8.4,8.8,9.2,9.6,10,10.4,10.8,11.2,11.6,12,12.4],
      "labels": false, "title": null,
      "tickSize": {"condition": {"test": "round(datum.value*10) % 20 === 0", "value": 6}, "value": 3},
      "tickWidth": 2, "tickColor": "#000", "domainColor": "#000", "domainWidth": 2, "grid": false}},
  "color": {"datum": "Mean TPCF", "type": "nominal"},
  "strokeWidth": {"datum": "Mean TPCF", "type": "nominal"}
 }}
],
"resolve": {"axis": {"x": "independent"}}
}
